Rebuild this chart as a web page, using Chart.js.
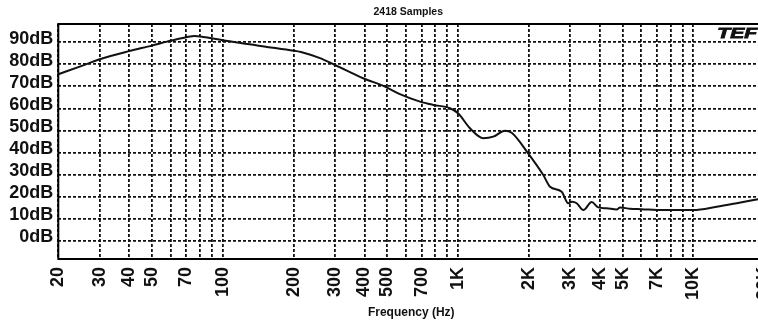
<!DOCTYPE html>
<html>
<head>
<meta charset="utf-8">
<script src="https://cdn.jsdelivr.net/npm/chart.js@4/dist/chart.umd.min.js"></script>
<style>
    html, body { margin: 0; padding: 0; background: #fff; overflow: hidden; }
    #wrap { width: 772px; height: 324px; }
</style>
</head>
<body>
<div id="wrap"><canvas id="chart" width="772" height="324"></canvas></div>
<script>
const frequencies = [20, 25, 30, 40, 50, 58, 70, 76, 90, 100, 130, 160, 206, 215, 259, 300, 395, 489, 566, 689,
    785, 924, 1000, 1124, 1280, 1412, 1583, 1690, 1989, 2302, 2459, 2756, 2941, 3050, 3192, 3406, 3698, 3944,
    4284, 4724, 4878, 5380, 6000, 7450, 10000, 12560, 15280, 18800, 20000];
const levels = [75.5, 79.2, 82.3, 86.0, 88.5, 90.3, 92.3, 92.9, 91.8, 90.9, 89.1, 87.6, 86.0, 85.6, 82.8, 79.7, 73.7, 69.9, 66.5, 63.1,
    61.6, 60.1, 57.8, 51.0, 46.5, 47.2, 49.9, 49.0, 39.5, 29.8, 24.5, 22.2, 17.0, 17.7, 17.0, 13.9, 17.5, 15.1,
    14.7, 14.2, 15.1, 14.5, 14.3, 13.9, 13.9, 15.4, 17.0, 18.8, 19.3];

const gridFrequencies = [20, 30, 40, 50, 60, 70, 80, 90, 100, 200, 300, 400, 500, 600, 700, 800, 900,
    1000, 2000, 3000, 4000, 5000, 6000, 7000, 8000, 9000, 10000, 20000];
const labeledFrequencies = [20, 30, 40, 50, 70, 100, 200, 300, 400, 500, 700, 1000, 2000, 3000, 4000, 5000, 7000, 10000, 20000];
const levelTicks = [0, 10, 20, 30, 40, 50, 60, 70, 80, 90];

const chartTitle = "2418 Samples";
const xAxisTitle = "Frequency (Hz)";
const logoText = "TEF";

const fontFamily = "'Liberation Sans', Arial, sans-serif";

function formatFrequency(value) {
    if (labeledFrequencies.indexOf(value) < 0)
        return "";
    return value >= 1000 ? (value / 1000) + "K" : String(value);
}

// frame round the plot, title and logo
const decorPlugin = {
    id: "decor",
    afterDraw(chart) {
        const ctx = chart.ctx;
        const area = chart.chartArea;

        ctx.save();
        ctx.strokeStyle = "#000";
        ctx.lineWidth = 2;
        ctx.strokeRect(area.left, area.top, area.right - area.left, area.bottom - area.top);

        ctx.fillStyle = "#111";
        ctx.font = "bold 10.5px " + fontFamily;
        ctx.textAlign = "center";
        ctx.textBaseline = "middle";
        ctx.fillText(chartTitle, (area.left + area.right) / 2 - 3, 12.5);

        ctx.translate(757, 38);
        ctx.scale(1.5, 1);
        ctx.font = "italic 900 14px " + fontFamily;
        ctx.textAlign = "right";
        ctx.textBaseline = "alphabetic";
        ctx.strokeStyle = "#111";
        ctx.lineWidth = 0.8;
        ctx.fillText(logoText, 0, 0);
        ctx.strokeText(logoText, 0, 0);
        ctx.restore();
    }
};

const points = frequencies.map((f, i) => ({ x: f, y: levels[i] }));

new Chart(document.getElementById("chart"), {
    type: "line",
    data: {
        datasets: [{
            data: points,
            borderColor: "#111",
            borderWidth: 2,
            pointRadius: 0,
            cubicInterpolationMode: "monotone",
            fill: false
        }]
    },
    options: {
        responsive: false,
        animation: false,
        devicePixelRatio: 1,
        layout: { padding: { top: 24, right: 7.8, left: 0, bottom: 0 } },
        plugins: {
            legend: { display: false },
            tooltip: { enabled: false },
            title: { display: false }
        },
        scales: {
            x: {
                type: "logarithmic",
                min: 20,
                max: 20000,
                afterBuildTicks: (scale) => {
                    scale.ticks = gridFrequencies.map((v) => ({ value: v }));
                },
                afterFit: (scale) => {
                    scale.height = 65;
                    scale.paddingLeft = 0;
                    scale.paddingRight = 0;
                },
                grid: {
                    color: "#111",
                    lineWidth: 1.8,
                    drawTicks: false
                },
                border: { display: false, dash: [3, 2] },
                ticks: {
                    autoSkip: false,
                    maxRotation: 90,
                    minRotation: 90,
                    padding: 8,
                    color: "#111",
                    font: { family: fontFamily, size: 18, weight: "bold" },
                    callback: (value) => formatFrequency(value)
                },
                title: {
                    display: true,
                    text: xAxisTitle,
                    color: "#111",
                    font: { family: fontFamily, size: 12, weight: "bold" },
                    padding: { top: 4, bottom: 4 }
                }
            },
            y: {
                type: "linear",
                min: -8.3,
                max: 98.3,
                afterBuildTicks: (scale) => {
                    scale.ticks = levelTicks.map((v) => ({ value: v }));
                },
                afterFit: (scale) => {
                    scale.width = 58.3;
                    scale.paddingTop = 0;
                    scale.paddingBottom = 0;
                },
                grid: {
                    color: "#111",
                    lineWidth: 1.8,
                    drawTicks: false
                },
                border: { display: false, dash: [3, 2] },
                ticks: {
                    padding: 5,
                    labelOffset: -3.5,
                    color: "#111",
                    font: { family: fontFamily, size: 18, weight: "bold" },
                    callback: (value) => value + "dB"
                }
            }
        }
    },
    plugins: [decorPlugin]
});
</script>
</body>
</html>
